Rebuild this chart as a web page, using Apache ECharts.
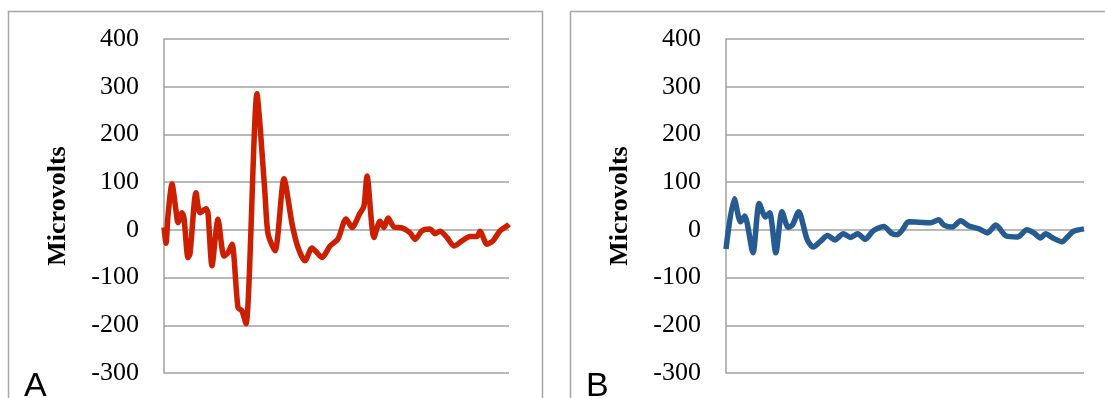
<!DOCTYPE html>
<html>
<head>
<meta charset="utf-8">
<script src="https://cdn.jsdelivr.net/npm/echarts@6/dist/echarts.min.js"></script>
<style>
  html, body { margin: 0; padding: 0; background: #fff; }
  #container { width: 1105px; height: 398px; }
</style>
</head>
<body>
<div id="container"></div>
<script>
// y axis ticks (microvolts)
var yMin = -300;
var yMax = 400;
var yStep = 100;

// panel A, red trace: sample index / value
var redT = [0, 1, 2, 4, 6, 7, 9, 10, 12, 13, 16, 18, 21, 22, 24, 27, 30, 32, 34, 37, 39, 41, 46.5, 48, 50.5, 52, 55.5,
    60, 64, 67, 70.5, 74, 79, 83, 87, 91, 94, 98, 100, 101.5, 105, 108, 110, 112, 115, 119, 123, 125.5, 129, 133,
    135.5, 138, 141.5, 145, 149, 153, 156.5, 158, 161.5, 164.5, 168, 171.5, 172.5];
var redV = [5, -28, 30, 96, 40, 15, 36, 25, -58, -50, 78, 36, 44, 35, -75, 22, -55, -48, -30, -163, -170, -197, 285, 220, 75, -8, -44,
    107, 13, -37, -65, -38, -58, -34, -19, 23, 5, 35, 50, 113, -16, 18, 5, 25, 6, 4, -6, -20, -2, 2,
    -8, -3, -16, -34, -23, -14, -14, -3, -30, -23, -2, 8, 12];

// panel B, blue trace
var blueT = [0, 4, 7, 9, 13, 16, 19, 21, 24, 27, 30, 32, 35, 39, 42, 45.5, 49, 52.5, 56.5, 60, 63.5, 67, 71, 76, 80, 82.5, 85,
    88, 98.5, 102.5, 105, 109, 113, 117, 122, 126, 130, 135, 140.5, 145, 148.5, 151.5, 154, 157.5, 162, 164.5, 167.5, 172.5];
var blueV = [-40, 65, 17, 29, -48, 55, 27, 36, -48, 38, 5, 10, 38, -19, -36, -24, -12, -21, -8, -16, -8, -20, -2, 7, -8, -10, 0,
    17, 15, 21, 10, 6, 19, 8, 2, -6, 10, -13, -15, 0, -7, -17, -8, -17, -25, -15, -3, 2];

function pairs(t, v) {
    var out = [];
    for (var i = 0; i < t.length; i++) {
        out.push([t[i], v[i]]);
    }
    return out;
}

var gridColor = '#a0a0a0';
var serif = '"Liberation Serif", "Times New Roman", serif';

function makeY(idx) {
    return {
        type: 'value',
        gridIndex: idx,
        min: yMin,
        max: yMax,
        interval: yStep,
        name: 'Microvolts',
        nameLocation: 'middle',
        nameRotate: 90,
        nameGap: 93,
        nameTextStyle: { fontFamily: serif, fontWeight: 'bold', fontSize: 26, color: '#000' },
        axisLine: { show: true, lineStyle: { color: gridColor, width: 1.5 } },
        axisTick: { show: false },
        axisLabel: { margin: 25, fontFamily: serif, fontSize: 26, color: '#000' },
        splitLine: { show: true, lineStyle: { color: gridColor, width: 1.5 } }
    };
}

function makeX(idx) {
    return {
        type: 'value',
        gridIndex: idx,
        min: 0,
        max: 172.5,
        axisLine: { show: false },
        axisTick: { show: false },
        axisLabel: { show: false },
        splitLine: { show: false }
    };
}

var dom = document.getElementById('container');
var myChart = echarts.init(dom, null, { renderer: 'canvas' });

var option = {
    animation: false,
    backgroundColor: '#fff',
    grid: [
        { left: 164, right: 596, top: 39, bottom: 25 },
        { left: 726, right: 21, top: 39, bottom: 25 }
    ],
    xAxis: [makeX(0), makeX(1)],
    yAxis: [makeY(0), makeY(1)],
    graphic: [
        {
            type: 'rect', left: 6, top: 9, silent: true, z: -1,
            shape: { width: 534, height: 420 },
            style: { fill: 'none', stroke: '#a6a6a6', lineWidth: 1.5 }
        },
        {
            type: 'rect', left: 568, top: 9, silent: true, z: -1,
            shape: { width: 560, height: 420 },
            style: { fill: 'none', stroke: '#a6a6a6', lineWidth: 1.5 }
        },
        {
            type: 'text', left: 24, top: 370,
            style: { text: 'A', font: '34px "Liberation Sans", Arial, sans-serif', fill: '#000' }
        },
        {
            type: 'text', left: 586, top: 370,
            style: { text: 'B', font: '34px "Liberation Sans", Arial, sans-serif', fill: '#000' }
        }
    ],
    series: [
        {
            type: 'line',
            xAxisIndex: 0,
            yAxisIndex: 0,
            data: pairs(redT, redV),
            showSymbol: false,
            smooth: 0.25,
            lineStyle: { color: '#cc1f00', width: 5.5 }
        },
        {
            type: 'line',
            xAxisIndex: 1,
            yAxisIndex: 1,
            data: pairs(blueT, blueV),
            showSymbol: false,
            smooth: 0.25,
            lineStyle: { color: '#255b90', width: 5.5 }
        }
    ]
};

myChart.setOption(option);
</script>
</body>
</html>
